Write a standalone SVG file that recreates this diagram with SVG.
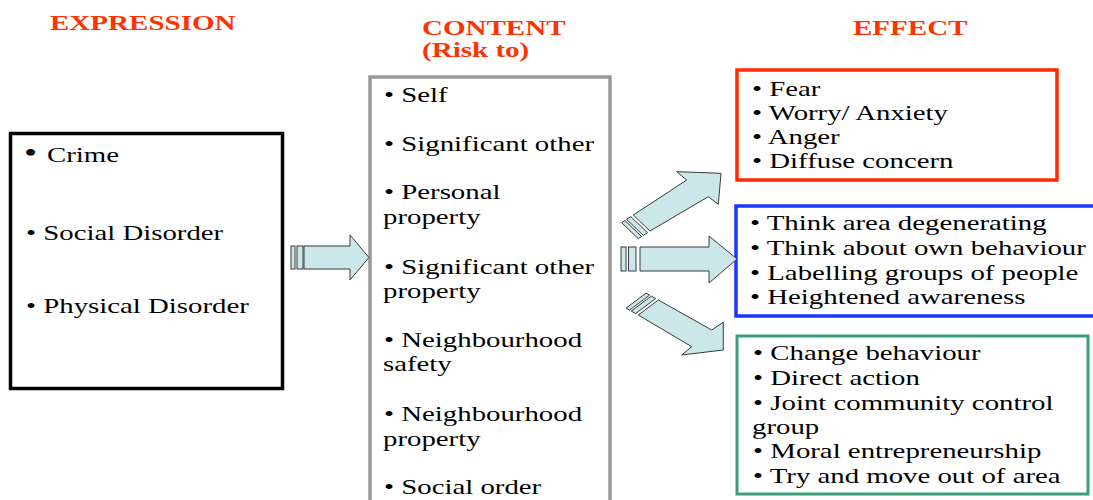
<svg xmlns="http://www.w3.org/2000/svg" width="1093" height="500" viewBox="0 0 1093 500">
<style>
.t{font-family:"Liberation Serif","Times New Roman",serif;font-size:21.5px;fill:#000}
.h{font-family:"Liberation Serif","Times New Roman",serif;font-size:22px;font-weight:bold;fill:#ff3300}
.box{fill:#fff}
.arr{fill:#cbe7ea;stroke:#3a3a3a;stroke-width:1;stroke-linejoin:miter}
</style>
<rect width="1093" height="500" fill="#fff"/>
<g id="headers">
<text class="h" transform="matrix(1.32 0 0 1 50 30)">EXPRESSION</text>
<text class="h" transform="matrix(1.32 0 0 1 422 35)">CONTENT</text>
<text class="h" transform="matrix(1.32 0 0 1 422 57)">(Risk to)</text>
<text class="h" transform="matrix(1.32 0 0 1 853 35)">EFFECT</text>
</g>
<g id="expression">
<rect class="box" x="10.5" y="133.5" width="272" height="255" stroke="#000" stroke-width="3.5"/>
<text class="t" transform="matrix(1.34 0 0 1 24 162)"><tspan font-size="28">•</tspan></text>
<text class="t" transform="matrix(1.34 0 0 1 47 162)">Crime</text>
<text class="t" transform="matrix(1.34 0 0 1 26 240)">• Social Disorder</text>
<text class="t" transform="matrix(1.34 0 0 1 26 313)">• Physical Disorder</text>
</g>
<g id="content">
<rect class="box" x="370" y="77" width="240" height="440" stroke="#999" stroke-width="3.5"/>
<text class="t" transform="matrix(1.34 0 0 1 384 102)">• Self</text>
<text class="t" transform="matrix(1.34 0 0 1 384 151)">• Significant other</text>
<text class="t" transform="matrix(1.34 0 0 1 384 199)">• Personal</text>
<text class="t" transform="matrix(1.34 0 0 1 383 224)">property</text>
<text class="t" transform="matrix(1.34 0 0 1 384 274)">• Significant other</text>
<text class="t" transform="matrix(1.34 0 0 1 383 298)">property</text>
<text class="t" transform="matrix(1.34 0 0 1 384 347)">• Neighbourhood</text>
<text class="t" transform="matrix(1.34 0 0 1 383 371)">safety</text>
<text class="t" transform="matrix(1.34 0 0 1 384 421)">• Neighbourhood</text>
<text class="t" transform="matrix(1.34 0 0 1 383 446)">property</text>
<text class="t" transform="matrix(1.34 0 0 1 384 494)">• Social order</text>
</g>
<g id="effect-emotion">
<rect class="box" x="737" y="70" width="320" height="110" stroke="#ff2a00" stroke-width="3.5"/>
<text class="t" transform="matrix(1.34 0 0 1 752 96)">• Fear</text>
<text class="t" transform="matrix(1.34 0 0 1 752 120)">• Worry/ Anxiety</text>
<text class="t" transform="matrix(1.34 0 0 1 752 144)">• Anger</text>
<text class="t" transform="matrix(1.34 0 0 1 752 168)">• Diffuse concern</text>
</g>
<g id="effect-cognition">
<rect class="box" x="736" y="206" width="362" height="110" stroke="#1a35ff" stroke-width="3.5"/>
<text class="t" transform="matrix(1.34 0 0 1 750 230)">• Think area degenerating</text>
<text class="t" transform="matrix(1.34 0 0 1 750 255)">• Think about own behaviour</text>
<text class="t" transform="matrix(1.34 0 0 1 750 280)">• Labelling groups of people</text>
<text class="t" transform="matrix(1.34 0 0 1 750 304)">• Heightened awareness</text>
</g>
<g id="effect-behaviour">
<rect class="box" x="737" y="336" width="351" height="158" stroke="#3c9e78" stroke-width="3"/>
<text class="t" transform="matrix(1.34 0 0 1 753 360)">• Change behaviour</text>
<text class="t" transform="matrix(1.34 0 0 1 753 385)">• Direct action</text>
<text class="t" transform="matrix(1.34 0 0 1 753 410)">• Joint community control</text>
<text class="t" transform="matrix(1.34 0 0 1 752 434)">group</text>
<text class="t" transform="matrix(1.34 0 0 1 753 458)">• Moral entrepreneurship</text>
<text class="t" transform="matrix(1.34 0 0 1 753 483)">• Try and move out of area</text>
</g>
<g id="connectors">
<g id="arrow-expression-content">
<rect class="arr" x="291" y="246" width="4" height="23"/>
<rect class="arr" x="297" y="246" width="6" height="23"/>
<polygon class="arr" points="304,246 350,246 350,235 369,257.5 350,280 350,269 304,269"/>
</g>
<g id="arrow-content-emotion">
<polygon class="arr" points="621.6,222.7 624.9,220.5 641.6,236.5 638.3,238.7"/>
<polygon class="arr" points="626.6,219.4 630.8,216.6 647.5,232.6 643.3,235.4"/>
<polygon class="arr" points="633.3,215 686.7,180 676.7,171.7 721,173.3 718.3,204.3 708.3,196.7 650,231"/>
</g>
<g id="arrow-content-cognition">
<rect class="arr" x="621" y="247" width="5" height="24"/>
<rect class="arr" x="628.5" y="247" width="7.5" height="24"/>
<polygon class="arr" points="640,247 709,247 709,236 737,259 709,283 709,271 640,271"/>
</g>
<g id="arrow-content-behaviour">
<polygon class="arr" points="646.1,293.1 649.6,295.1 629.6,310.1 626.1,308.1"/>
<polygon class="arr" points="651.3,296.1 655.7,298.5 635.7,313.5 631.3,311.1"/>
<polygon class="arr" points="658.3,300 711.7,330 723.3,322.3 723.3,350 681.7,355 691.7,346.7 638.3,315"/>
</g>
</g>
</svg>
